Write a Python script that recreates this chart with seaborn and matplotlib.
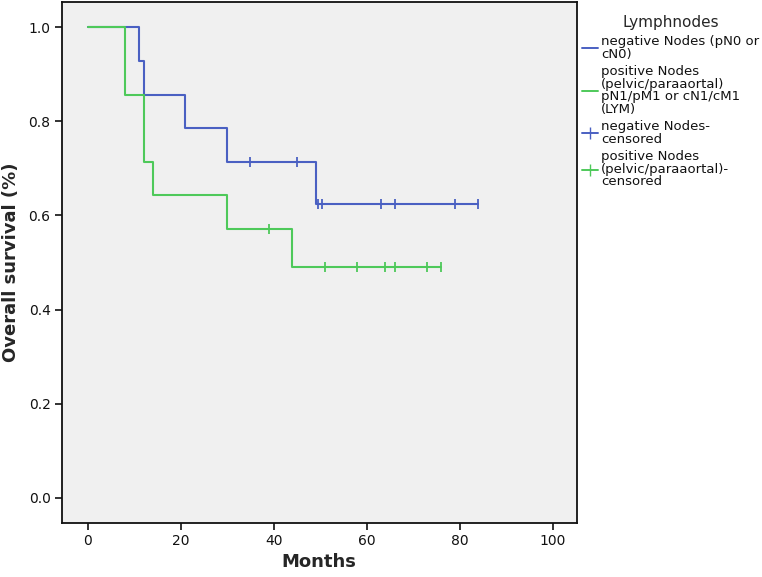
import numpy as np
import pandas as pd
import matplotlib
matplotlib.use('Agg')
import matplotlib.pyplot as plt
from matplotlib.lines import Line2D
import seaborn as sns

# Kaplan-Meier step curves
neg_times = [0, 11, 12, 21, 30, 49, 84]
neg_surv = [1.0, 0.929, 0.857, 0.786, 0.714, 0.625, 0.625]
pos_times = [0, 8, 12, 14, 30, 44, 76]
pos_surv = [1.0, 0.857, 0.714, 0.643, 0.571, 0.490, 0.490]

# censored observations (months)
neg_censored = [35, 45, 49.5, 50.3, 63, 66, 79, 84]
pos_censored = [39, 51, 58, 64, 66, 73, 76]

groups = ['negative', 'positive']
colors = {'negative': '#4a60c2', 'positive': '#4ec95a'}


def level_at(times, surv, t):
    i = np.searchsorted(times, t, side='right') - 1
    return surv[i]


curves = pd.concat([
    pd.DataFrame({'months': neg_times, 'surv': neg_surv, 'group': 'negative'}),
    pd.DataFrame({'months': pos_times, 'surv': pos_surv, 'group': 'positive'}),
])
cens = pd.concat([
    pd.DataFrame({'months': neg_censored,
                  'surv': [level_at(neg_times, neg_surv, t) for t in neg_censored],
                  'group': 'negative'}),
    pd.DataFrame({'months': pos_censored,
                  'surv': [level_at(pos_times, pos_surv, t) for t in pos_censored],
                  'group': 'positive'}),
])

sns.set_style('ticks')
plt.rcParams['font.family'] = ['DejaVu Sans']

fig = plt.figure(figsize=(7.62, 5.77), dpi=100)
ax = fig.add_axes([0.081, 0.094, 0.676, 0.902])
ax.set_facecolor('#f0f0f0')

sns.lineplot(data=curves, x='months', y='surv', hue='group', palette=colors,
             drawstyle='steps-post', estimator=None, sort=False,
             linewidth=1.5, legend=False, ax=ax)
sns.scatterplot(data=cens, x='months', y='surv', hue='group', palette=colors,
                marker='|', s=55, linewidth=1.3, legend=False, ax=ax)

ax.set_xlim(-5.6, 105.2)
ax.set_ylim(-0.053, 1.053)
ax.set_xticks([0, 20, 40, 60, 80, 100])
ax.set_yticks([0.0, 0.2, 0.4, 0.6, 0.8, 1.0])
ax.set_yticklabels(['0.0', '0.2', '0.4', '0.6', '0.8', '1.0'])
ax.tick_params(length=5, width=1.2, labelsize=10, colors='#111111', pad=3)
for s in ax.spines.values():
    s.set_linewidth(1.3)
    s.set_color('#111111')
ax.set_xlabel('Months', fontsize=13, fontweight='bold', labelpad=4)
ax.set_ylabel('Overall survival (%)', fontsize=13, fontweight='bold', labelpad=6)

handles = [
    Line2D([], [], color=colors['negative'], lw=1.4),
    Line2D([], [], color=colors['positive'], lw=1.4),
    Line2D([], [], color=colors['negative'], lw=1.4, marker='|', markersize=9),
    Line2D([], [], color=colors['positive'], lw=1.4, marker='|', markersize=9),
]
labels = [
    'negative Nodes (pN0 or\ncN0)',
    'positive Nodes\n(pelvic/paraaortal)\npN1/pM1 or cN1/cM1\n(LYM)',
    'negative Nodes-\ncensored',
    'positive Nodes\n(pelvic/paraaortal)-\ncensored',
]
leg = ax.legend(handles, labels, title='Lymphnodes', loc='upper left',
                bbox_to_anchor=(0.0, 0.985), bbox_transform=ax.transAxes,
                borderaxespad=0.0, frameon=False,
                fontsize=9.5, title_fontsize=11, handlelength=1.2,
                handletextpad=0.25, labelspacing=0.35)
leg.set_bbox_to_anchor((1.0, 0.985), transform=ax.transAxes)
for t in leg.get_texts():
    t.set_linespacing(0.95)
    t.set_color('#111111')

fig.savefig('out.png', dpi=100)
